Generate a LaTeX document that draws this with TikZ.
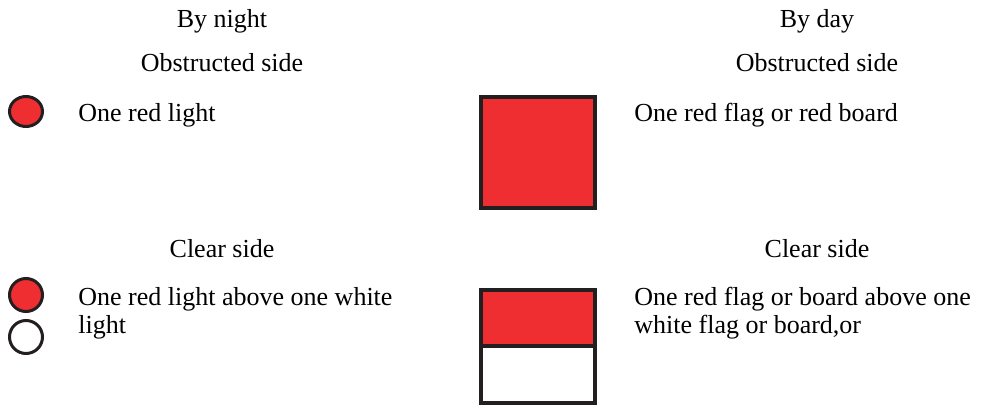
\documentclass[tikz,border=0pt]{standalone}
\usepackage{fontspec}
\setmainfont{Liberation Serif}
\usetikzlibrary{positioning}
\definecolor{signalred}{RGB}{238,46,49}
\definecolor{edgeblack}{RGB}{35,31,32}

\begin{document}
\begin{tikzpicture}[x=0.5pt, y=-0.5pt,
  every node/.style={font=\fontsize{13}{14}\selectfont, inner sep=0pt},
  heading/.style={anchor=base},
  caption/.style={anchor=base west, align=left},
  lamp/.style={draw=edgeblack, line width=1.5pt},
  board/.style={draw=edgeblack, line width=2pt}]
  \useasboundingbox (0,0) rectangle (984,407);

  % by night
  \node[heading] (night) at (222,27) {By night};
  \node[heading] (nightobs) at (222,71) {Obstructed side};
  \draw[lamp, fill=signalred] (26,111.5) ellipse (16.5 and 15);
  \node[caption] (nightobstext) at (78,121) {One red light};

  \node[heading] (nightclear) at (222,257) {Clear side};
  \draw[lamp, fill=signalred] (26,295) circle (16.5);
  \draw[lamp, fill=white] (26,337) circle (16.5);
  \node[caption] (nightcleartext) at (78,333) {One red light above one white\\light};

  % by day
  \node[heading] (day) at (817,27) {By day};
  \node[heading] (dayobs) at (817,71) {Obstructed side};
  \draw[board, fill=signalred] (481,97) rectangle (595,208);
  \node[caption] (dayobstext) at (634,121) {One red flag or red board};

  \node[heading] (dayclear) at (817,257) {Clear side};
  \draw[board, fill=signalred] (481,290) rectangle (595,346);
  \draw[board, fill=white] (481,346) rectangle (595,403);
  \node[caption] (daycleartext) at (634,333) {One red flag or board above one\\white flag or board,or};
\end{tikzpicture}
\end{document}
